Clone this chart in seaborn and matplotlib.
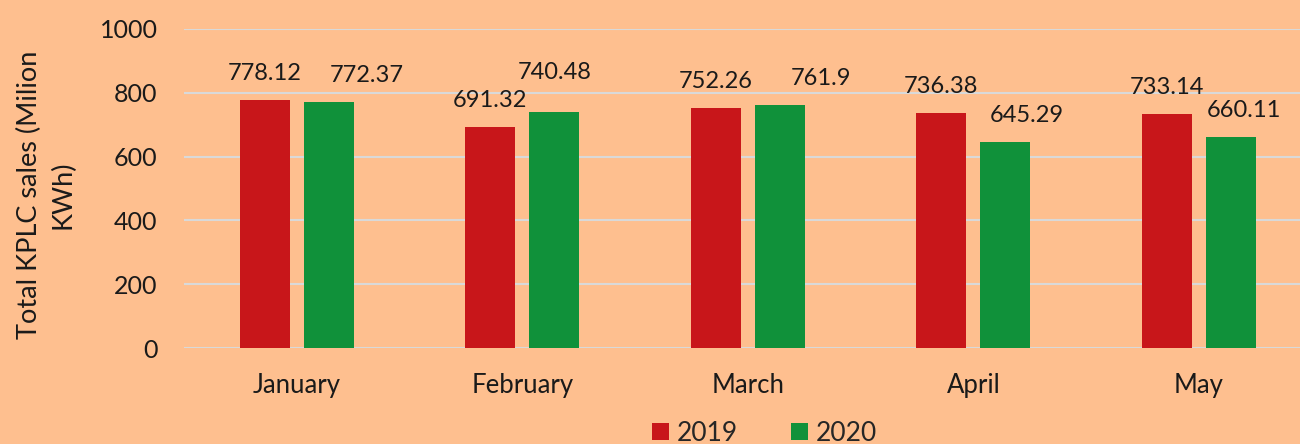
import matplotlib

matplotlib.use("Agg")
import matplotlib.pyplot as plt
import pandas as pd
import seaborn as sns

months = ["January", "February", "March", "April", "May"]
sales_2019 = [778.12, 691.32, 752.26, 736.38, 733.14]
sales_2020 = [772.37, 740.48, 761.9, 645.29, 660.11]
years = ["2019", "2020"]

bg = "#FEBF8F"
colors = {"2019": "#C8161A", "2020": "#10913A"}

# hand-placed label nudges in the original (pixels, per year)
label_nudge = {
    "2019": [(0, 0), (0, 0), (0, 0), (0, 0), (0, 0)],
    "2020": [(38, 0), (0, 13), (41, 0), (21, 0), (13, 0)],
}

df = pd.DataFrame(
    {
        "month": months * 2,
        "year": [years[0]] * len(months) + [years[1]] * len(months),
        "sales": sales_2019 + sales_2020,
    }
)

sns.set_theme(style="white")
plt.rcParams["font.family"] = ["Lato", "DejaVu Sans"]

fig = plt.figure(figsize=(13, 4.44), dpi=100, facecolor=bg)
ax = fig.add_axes([0.1415, 0.2162, 0.8675, 0.7185])
ax.set_facecolor(bg)

sns.barplot(
    data=df,
    x="month",
    y="sales",
    hue="year",
    palette=colors,
    saturation=1,
    width=0.568,
    gap=0.219,
    linewidth=0,
    ax=ax,
    legend=True,
)

for year, cont in zip(years, ax.containers):
    for bar, val, (dx, dy) in zip(cont, cont.datavalues, label_nudge[year]):
        ax.annotate(
            f"{val:g}",
            xy=(bar.get_x() + bar.get_width() / 2, bar.get_height()),
            xytext=(dx, 20 + dy),
            textcoords="offset pixels",
            ha="center",
            va="baseline",
            fontsize=17,
            color="#1a1a1a",
        )

ax.set_ylim(0, 1000)
ax.set_yticks(range(0, 1001, 200))
ax.yaxis.grid(True, color="#D9D9D9", linewidth=1.5)
ax.set_axisbelow(True)
for s in ax.spines.values():
    s.set_visible(False)
ax.tick_params(axis="both", length=0, colors="#1a1a1a")
ax.tick_params(axis="x", pad=18, labelsize=18.5)
ax.tick_params(axis="y", pad=19, labelsize=18)
ax.set_xlabel("")
ax.set_ylabel("Total KPLC sales (Milion\nKWh)", fontsize=19.5, color="#1a1a1a",
              va="center", linespacing=1.45)
ax.yaxis.set_label_coords(-0.122, 0.48)

handles, labels = ax.get_legend_handles_labels()
ax.legend_.remove()
fig.legend(
    handles,
    labels,
    loc="center",
    bbox_to_anchor=(0.588, 0.024),
    ncol=2,
    frameon=False,
    fontsize=19,
    handlelength=0.65,
    handleheight=0.65,
    handletextpad=0.3,
    columnspacing=2.0,
)

fig.savefig("out.png", dpi=100, facecolor=bg)
